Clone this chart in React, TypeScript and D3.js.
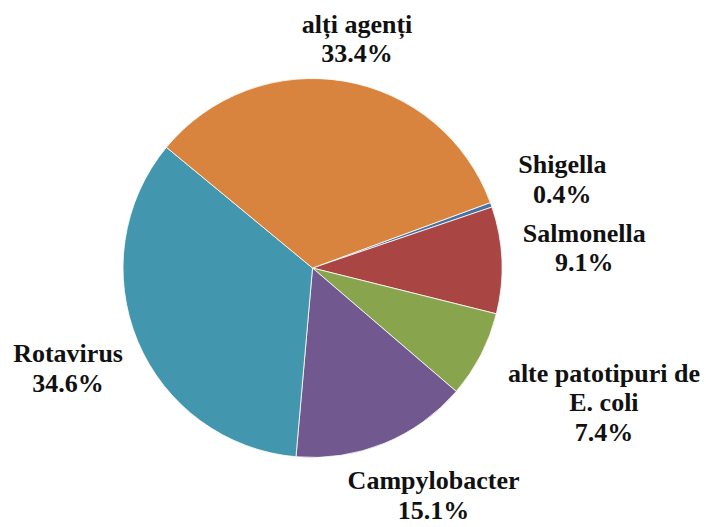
import React from 'react';
import * as d3 from 'd3';

// data (Excel order: first slice starts at ~70deg, clockwise)
const categories = ['Shigella', 'Salmonella', 'alte patotipuri de\nE. coli', 'Campylobacter', 'Rotavirus', 'alți agenți'];
const values = [0.4, 9.1, 7.4, 15.1, 34.6, 33.4];
const colors = ['#4672A6', '#A94644', '#88A54E', '#71588F', '#4297AE', '#D9843E'];

// label nudges relative to the label-arc centroid
const labelNudge = [[0, 0], [7, -9], [56, 13], [21, -18], [0, -2], [0, 32]];

const width = 706;
const height = 527;
const cx = 312.5;
const cy = 268;
const radius = 189.5;
const fontSize = 26;
const lineHeight = 29.5;

const App = () => {
  const startAngle = (69.8 * Math.PI) / 180;
  const pie = d3.pie<number>()
    .sort(null)
    .startAngle(startAngle)
    .endAngle(startAngle + 2 * Math.PI);

  const arcs = pie(values);

  const arc = d3.arc<d3.PieArcDatum<number>>()
    .innerRadius(0)
    .outerRadius(radius);

  const labelArc = d3.arc<d3.PieArcDatum<number>>()
    .innerRadius(265)
    .outerRadius(265);

  return (
    <svg width={width} height={height} style={{ position: 'absolute', left: 0, top: 0, background: '#fff' }}>
      <g transform={`translate(${cx},${cy})`}>
        {arcs.map((d, i) => (
          <path key={i} d={arc(d) || ''} fill={colors[i]} stroke="#fff" strokeWidth={0.8} />
        ))}
      </g>
      <g
        transform={`translate(${cx},${cy})`}
        fontFamily="Liberation Serif, Times New Roman, serif"
        fontWeight="bold"
        fontSize={fontSize}
      >
        {arcs.map((d, i) => {
          const [x, y] = labelArc.centroid(d);
          const lx = x + labelNudge[i][0];
          const ly = y + labelNudge[i][1];
          const lines = [...categories[i].split('\n'), `${values[i].toFixed(1)}%`];
          const n = lines.length;
          return lines.map((line, j) => (
            <text
              key={`${i}-${j}`}
              x={lx}
              y={ly + (j - (n - 1) / 2) * lineHeight + 0.33 * fontSize}
              textAnchor="middle"
              fill="#111"
            >
              {line}
            </text>
          ));
        })}
      </g>
    </svg>
  );
};

export default App;
